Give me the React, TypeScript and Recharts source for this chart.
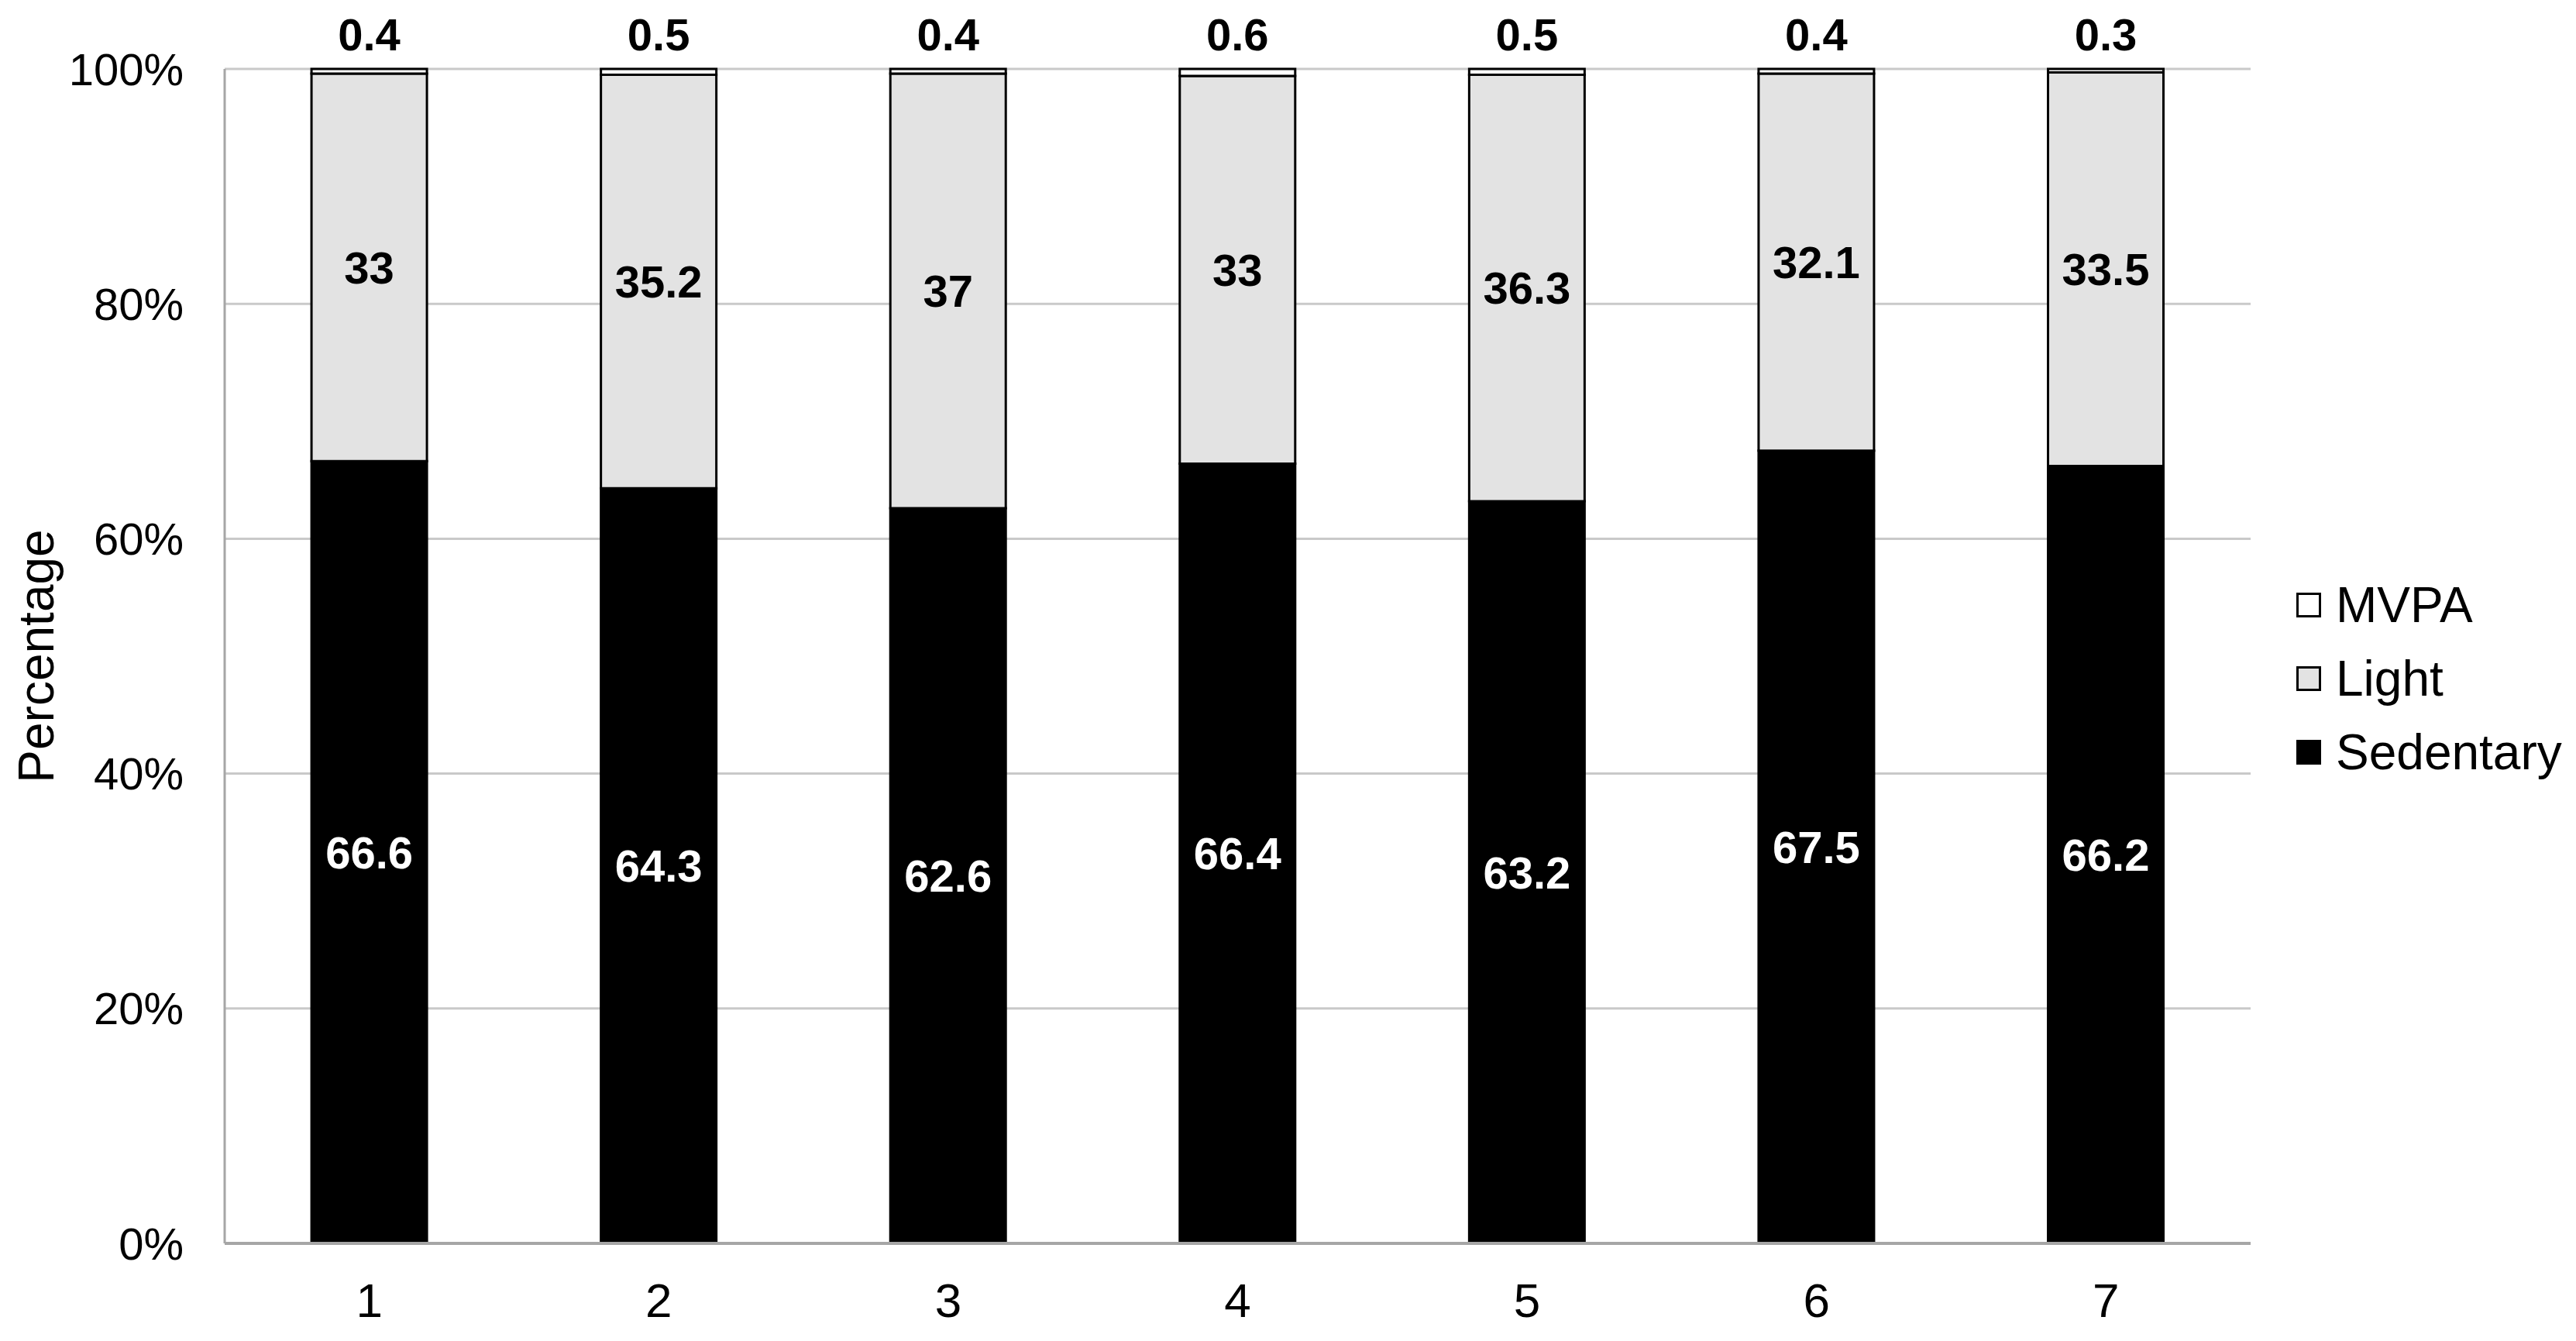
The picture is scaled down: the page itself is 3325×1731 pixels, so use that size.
import React from "react";
import { BarChart, Bar, XAxis, YAxis, CartesianGrid, LabelList, Label } from "recharts";

const days = ["1", "2", "3", "4", "5", "6", "7"];
const sedentary = [66.6, 64.3, 62.6, 66.4, 63.2, 67.5, 66.2];
const light = [33, 35.2, 37, 33, 36.3, 32.1, 33.5];
const mvpa = [0.4, 0.5, 0.4, 0.6, 0.5, 0.4, 0.3];
const yTicks = [0, 20, 40, 60, 80, 100];

const legendItems = [
  { name: "MVPA", color: "#ffffff" },
  { name: "Light", color: "#e3e3e3" },
  { name: "Sedentary", color: "#000000" },
];

const data = days.map((day, i) => ({
  day,
  sedentary: sedentary[i],
  light: light[i],
  mvpa: mvpa[i],
}));

const FONT = "'Liberation Sans', Arial, sans-serif";

export default function App() {
  return (
    <div style={{ position: "relative", width: 3309, height: 1715, fontFamily: FONT }}>
      <BarChart
        width={3309}
        height={1715}
        data={data}
        margin={{ top: 81, right: 412, bottom: 0, left: 0 }}
        barCategoryGap="30%"
      >
        <CartesianGrid vertical={false} stroke="#c9c9c9" strokeWidth={3} />
        <XAxis
          dataKey="day"
          height={118}
          tickLine={false}
          tickSize={0}
          tickMargin={51}
          axisLine={{ stroke: "#a6a6a6", strokeWidth: 4 }}
          tick={{ fill: "#000", fontSize: 62, fontFamily: FONT }}
        />
        <YAxis
          width={282}
          domain={[0, 100]}
          ticks={yTicks}
          tickFormatter={(v) => `${v}%`}
          tickLine={false}
          tickSize={0}
          tickMargin={53}
          axisLine={{ stroke: "#a6a6a6", strokeWidth: 3 }}
          tick={{ fill: "#000", fontSize: 58, fontFamily: FONT }}
        >
          <Label
            content={({ viewBox }: any) => {
              const cy = viewBox.y + viewBox.height / 2;
              return (
                <text
                  x={39}
                  y={cy}
                  transform={`rotate(-90, 39, ${cy})`}
                  textAnchor="middle"
                  dominantBaseline="central"
                  fontSize={64}
                  fontFamily={FONT}
                  fill="#000"
                >
                  Percentage
                </text>
              );
            }}
          />
        </YAxis>
        <Bar dataKey="sedentary" stackId="a" fill="#000" stroke="#000" strokeWidth={3} isAnimationActive={false}>
          <LabelList dataKey="sedentary" position="center" fill="#fff" fontSize={58} fontWeight="bold" fontFamily={FONT} />
        </Bar>
        <Bar dataKey="light" stackId="a" fill="#e3e3e3" stroke="#000" strokeWidth={3} isAnimationActive={false}>
          <LabelList dataKey="light" position="center" fill="#000" fontSize={58} fontWeight="bold" fontFamily={FONT} />
        </Bar>
        <Bar dataKey="mvpa" stackId="a" fill="#fff" stroke="#000" strokeWidth={3} isAnimationActive={false}>
          <LabelList dataKey="mvpa" position="top" offset={24} fill="#000" fontSize={58} fontWeight="bold" fontFamily={FONT} />
        </Bar>
      </BarChart>
      <div style={{ position: "absolute", left: 2956, top: 725 }}>
        {legendItems.map((it) => (
          <div key={it.name} style={{ display: "flex", alignItems: "center", height: 95 }}>
            <div
              style={{
                width: 26,
                height: 26,
                background: it.color,
                border: "3px solid #000",
                marginRight: 19,
              }}
            />
            <span style={{ fontSize: 64, color: "#000", lineHeight: "64px" }}>{it.name}</span>
          </div>
        ))}
      </div>
    </div>
  );
}
